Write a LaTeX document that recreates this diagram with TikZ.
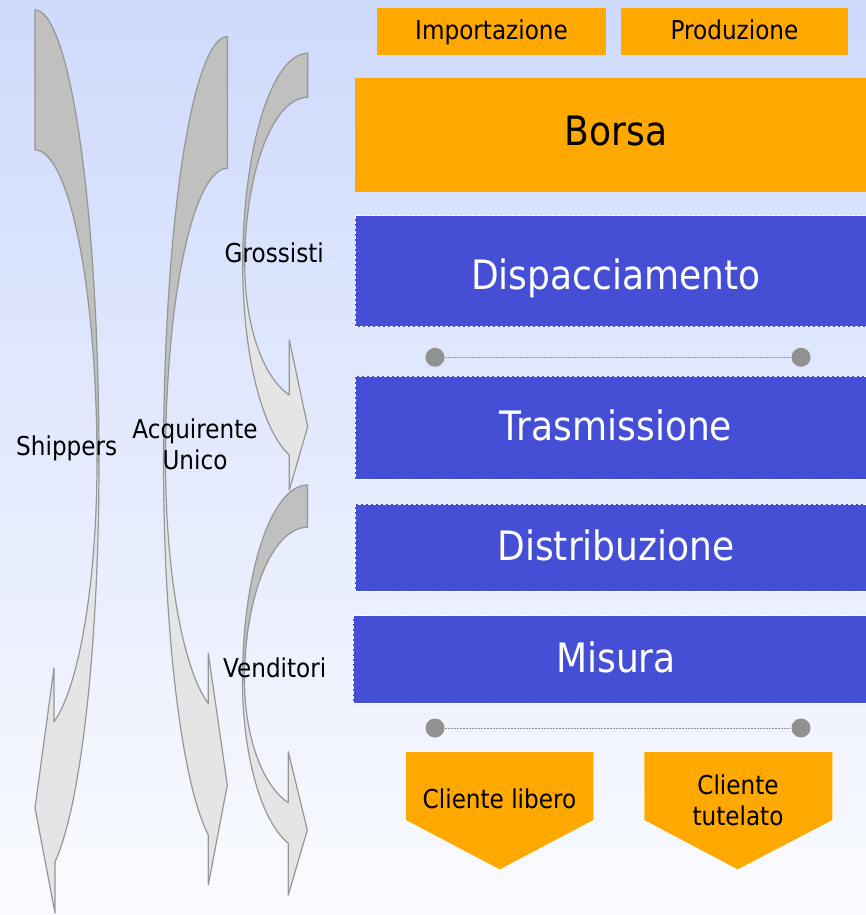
\documentclass[tikz,border=0pt]{standalone}
\usepackage{fontspec}
\setmainfont{DejaVu Sans}[FakeStretch=0.89]
\definecolor{bgtop}{RGB}{206,218,252}
\definecolor{bgbot}{RGB}{250,251,255}
\definecolor{boxorange}{RGB}{255,168,0}
\definecolor{boxblue}{RGB}{68,79,214}
\definecolor{dotgrey}{RGB}{145,145,145}
\definecolor{arrdark}{RGB}{192,193,190}
\definecolor{arrlight}{RGB}{229,229,229}
\definecolor{arredge}{RGB}{150,150,150}
\tikzset{
  obox/.style={fill=boxorange, draw=none, inner sep=0pt},
  bbox/.style={fill=boxblue, draw=white, dash pattern=on 3pt off 2pt, line width=1pt, inner sep=0pt},
  smalltxt/.style={font=\fontsize{26}{31}\selectfont, inner sep=0pt, text=black},
  bigtxt/.style={font=\fontsize{40.5}{48}\selectfont, inner sep=0pt},
  dotnode/.style={circle, fill=dotgrey, draw=none, minimum size=19pt, inner sep=0pt},
  dotline/.style={draw=arredge, line width=0.8pt, dash pattern=on 2pt off 1pt},
  darkpart/.style={fill=arrdark, draw=arredge, line width=1.2pt, line join=round},
  lightpart/.style={fill=arrlight, draw=arredge, line width=1.2pt, line join=round},
}
\begin{document}
\begin{tikzpicture}[x=1pt,y=-1pt]
\useasboundingbox (0,0) rectangle (866,915);
\clip (0,0) rectangle (866,915);
\shade[top color=bgtop,bottom color=bgbot] (0,0) rectangle (866,915);

% ---------- curved arrows ----------
% Arrow 1 (Shippers)
\path[darkpart] plot[domain=-90:0, samples=80, variable=\t] ({35+64*cos(\t)},{461+451*sin(\t)})
  -- plot[domain=0:-90, samples=80, variable=\t] ({35+62*cos(\t)},{461+311*sin(\t)}) -- cycle;
\path[lightpart] plot[domain=0:71.8, samples=80, variable=\t] ({35+64*cos(\t)},{461+422*sin(\t)})
  -- (55,913) -- (35,808) -- (54,668) -- (54,722)
  -- plot[domain=72.2:0, samples=80, variable=\t] ({35+62*cos(\t)},{461+274*sin(\t)}) -- cycle;
% Arrow 2 (Acquirente Unico)
\path[darkpart] plot[domain=-90:0, samples=80, variable=\t] ({227.5-64*cos(\t)},{461+424.3*sin(\t)})
  -- plot[domain=0:-90, samples=80, variable=\t] ({227.5-62*cos(\t)},{461+292.7*sin(\t)}) -- cycle;
\path[lightpart] plot[domain=0:72.54, samples=80, variable=\t] ({227.5-64*cos(\t)},{461+392*sin(\t)})
  -- (208.3,885) -- (227.3,785) -- (208.3,653.3) -- (208.3,703.3)
  -- plot[domain=72.0:0, samples=80, variable=\t] ({227.5-62*cos(\t)},{461+255*sin(\t)}) -- cycle;
% Arrow 4 (Venditori)
\path[darkpart] plot[domain=-90:0, samples=80, variable=\t] ({307.5-65*cos(\t)},{680+195*sin(\t)})
  -- plot[domain=0:-90, samples=80, variable=\t] ({307.5-63*cos(\t)},{680+152.7*sin(\t)}) -- cycle;
\path[lightpart] plot[domain=0:72.82, samples=80, variable=\t] ({307.5-65*cos(\t)},{680+170.9*sin(\t)})
  -- (288.3,895) -- (307.3,830) -- (288.3,751.7) -- (288.3,802.7)
  -- plot[domain=72.25:0, samples=80, variable=\t] ({307.5-63*cos(\t)},{680+128.8*sin(\t)}) -- cycle;
% Arrow 3 (Grossisti)
\path[darkpart] plot[domain=-90:0, samples=80, variable=\t] ({307.7-65*cos(\t)},{265+211.7*sin(\t)})
  -- plot[domain=0:-90, samples=80, variable=\t] ({307.7-63*cos(\t)},{265+167.7*sin(\t)}) -- cycle;
\path[lightpart] plot[domain=0:73.56, samples=80, variable=\t] ({307.7-65*cos(\t)},{265+198.1*sin(\t)})
  -- (289.3,490) -- (307.7,426.7) -- (289.3,340) -- (289.3,395)
  -- plot[domain=73.02:0, samples=80, variable=\t] ({307.7-63*cos(\t)},{265+135.9*sin(\t)}) -- cycle;

% arrow labels
\node[smalltxt, anchor=base] (grossisti) at (274.3,262) {Grossisti};
\node[smalltxt, anchor=base] (shippers) at (66.7,455) {Shippers};
\node[smalltxt, align=center, anchor=center] (acq) at (195,444) {Acquirente\\Unico};
\node[smalltxt, anchor=base] (venditori) at (274.7,677.3) {Venditori};

% ---------- top orange boxes ----------
\node[obox, minimum width=229pt, minimum height=47pt] (impbox) at (491.5,31.5) {};
\node[smalltxt, anchor=base] (imp) at (491.5,39.5) {Importazione};
\node[obox, minimum width=227pt, minimum height=47pt] (prodbox) at (734.5,31.5) {};
\node[smalltxt, anchor=base] (prod) at (734.5,39.5) {Produzione};
\node[obox, minimum width=522pt, minimum height=114pt] (borsabox) at (616,135) {};
\node[bigtxt, anchor=base, text=black] (borsa) at (616,145.7) {Borsa};

% ---------- blue boxes ----------
\node[bbox, minimum width=522pt, minimum height=111pt] (dispbox) at (616,271.2) {};
\node[bigtxt, anchor=base, text=white] (disp) at (616,289.3) {Dispacciamento};
\node[bbox, minimum width=522pt, minimum height=103.3pt] (trasbox) at (616,427.7) {};
\node[bigtxt, anchor=base, text=white] (tras) at (616,440.7) {Trasmissione};
\node[bbox, minimum width=522pt, minimum height=86.7pt] (distbox) at (616,547.7) {};
\node[bigtxt, anchor=base, text=white] (dist) at (616,560.7) {Distribuzione};
\node[bbox, minimum width=523.7pt, minimum height=87.6pt] (misbox) at (615.2,659.5) {};
\node[bigtxt, anchor=base, text=white] (mis) at (616,672.7) {Misura};

% ---------- dots and dotted connectors ----------
\node[dotnode] (d1) at (435,357.3) {};
\node[dotnode] (d2) at (801,357.3) {};
\draw[dotline] (d1) -- (d2);
\node[dotnode] (d3) at (435,728) {};
\node[dotnode] (d4) at (801,728) {};
\draw[dotline] (d3) -- (d4);

% ---------- client pentagons ----------
\path[fill=boxorange] (406,752) -- (593.3,752) -- (593.3,820) -- (499.7,869.3) -- (406,820) -- cycle;
\node[smalltxt, anchor=base] (libero) at (499.5,808.3) {Cliente libero};
\path[fill=boxorange] (644.3,752) -- (832.3,752) -- (832.3,820) -- (737.7,869.3) -- (644.3,820) -- cycle;
\node[smalltxt, align=center, anchor=center] (tutelato) at (738,800.6) {Cliente\\tutelato};
\end{tikzpicture}
\end{document}
